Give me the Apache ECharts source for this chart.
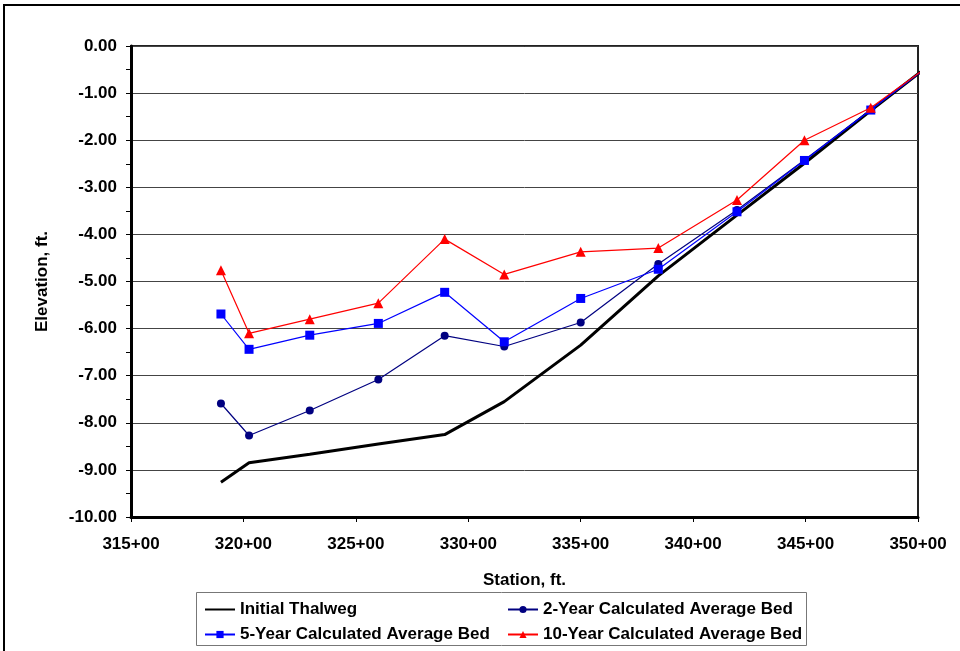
<!DOCTYPE html>
<html>
<head>
<meta charset="utf-8">
<script src="https://cdn.jsdelivr.net/npm/echarts@6/dist/echarts.min.js"></script>
<style>
html, body { margin: 0; padding: 0; background: #fff; }
#chart { width: 960px; height: 651px; }
</style>
</head>
<body>
<div id="chart"></div>
<script>
// stations (ft) and elevations
var stations = [31900, 32025, 32295, 32600, 32895, 33160, 33500, 33845, 34195, 34495, 34790, 35020];
var thalweg = [-9.26, -8.85, -8.67, -8.45, -8.25, -7.55, -6.35, -4.88, -3.59, -2.49, -1.37, -0.52];
var bed2yr  = [-7.59, -8.27, -7.74, -7.08, -6.15, -6.38, -5.87, -4.63, -3.48, -2.42, -1.35, -0.52];
var bed5yr  = [-5.69, -6.44, -6.14, -5.89, -5.23, -6.28, -5.36, -4.74, -3.52, -2.43, -1.36, -0.52];
var bed10yr = [-4.76, -6.10, -5.80, -5.46, -4.10, -4.85, -4.37, -4.29, -3.27, -2.00, -1.31, -0.52];
var seriesNames = [
    "Initial Thalweg",
    "2-Year Calculated Average Bed",
    "5-Year Calculated Average Bed",
    "10-Year Calculated Average Bed"
];

var font = "'Liberation Sans', Arial, sans-serif";

function pairs(ys, hideLast) {
    return stations.map(function (x, i) {
        if (hideLast && i === stations.length - 1) {
            return { value: [x, ys[i]], symbol: "none" };
        }
        return [x, ys[i]];
    });
}

function stationLabel(v) {
    var ft = Math.round(v) % 100;
    return Math.floor(v / 100) + "+" + (ft < 10 ? "0" + ft : ft);
}

var legendText = { fontFamily: font, fontWeight: "bold", fontSize: 17, color: "#000" };

var chart = echarts.init(document.getElementById("chart"));
chart.setOption({
    animation: false,
    grid: {
        left: 131,
        right: 42,
        top: 46,
        bottom: 134,
        show: true,
        borderColor: "#222",
        borderWidth: 2
    },
    graphic: [
        {
            type: "rect",
            shape: { x: 4, y: 5, width: 980, height: 700 },
            style: { fill: "none", stroke: "#000", lineWidth: 2 },
            silent: true
        },
        {
            type: "rect",
            shape: { x: 196.5, y: 592.5, width: 610, height: 53 },
            style: { fill: "#fff", stroke: "#777", lineWidth: 1 },
            z: -1,
            silent: true
        }
    ],
    legend: [
        {
            orient: "vertical",
            left: 199,
            top: 596,
            itemWidth: 30,
            itemHeight: 9,
            itemGap: 8,
            data: [seriesNames[0], seriesNames[2]],
            textStyle: legendText
        },
        {
            orient: "vertical",
            left: 502,
            top: 596,
            itemWidth: 30,
            itemHeight: 9,
            itemGap: 8,
            data: [seriesNames[1], seriesNames[3]],
            textStyle: legendText
        }
    ],
    xAxis: {
        type: "value",
        min: 31500,
        max: 35000,
        interval: 500,
        name: "Station, ft.",
        nameLocation: "middle",
        nameGap: 55,
        nameTextStyle: { fontFamily: font, fontWeight: "bold", fontSize: 17, color: "#000" },
        axisLine: { onZero: false, lineStyle: { color: "#000", width: 3 } },
        axisTick: { show: true, length: 5, lineStyle: { color: "#000", width: 1 } },
        axisLabel: {
            margin: 19,
            formatter: stationLabel,
            fontFamily: font,
            fontWeight: "bold",
            fontSize: 17,
            color: "#000"
        },
        splitLine: { show: false }
    },
    yAxis: {
        type: "value",
        min: -10,
        max: 0,
        interval: 1,
        name: "Elevation, ft.",
        nameLocation: "middle",
        nameGap: 80,
        nameRotate: 90,
        nameTextStyle: { fontFamily: font, fontWeight: "bold", fontSize: 17, color: "#000" },
        axisLine: { onZero: false, lineStyle: { color: "#000", width: 3 } },
        axisTick: { show: true, length: 5, lineStyle: { color: "#000", width: 1 } },
        minorTick: { show: true, splitNumber: 2, length: 5, lineStyle: { color: "#000", width: 1 } },
        axisLabel: {
            margin: 14,
            formatter: function (v) { return v.toFixed(2); },
            fontFamily: font,
            fontWeight: "bold",
            fontSize: 17,
            color: "#000"
        },
        splitLine: { show: true, lineStyle: { color: "#444", width: 1 } }
    },
    series: [
        {
            name: seriesNames[0],
            type: "line",
            data: pairs(thalweg, false),
            symbol: "line",
            showSymbol: false,
            clip: false,
            z: 2,
            lineStyle: { color: "#000", width: 3 },
            itemStyle: { color: "#000" }
        },
        {
            name: seriesNames[1],
            type: "line",
            data: pairs(bed2yr, true),
            symbol: "circle",
            symbolSize: 8,
            clip: false,
            z: 3,
            lineStyle: { color: "#000080", width: 1.2 },
            itemStyle: { color: "#000080" }
        },
        {
            name: seriesNames[2],
            type: "line",
            data: pairs(bed5yr, true),
            symbol: "rect",
            symbolSize: 9,
            clip: false,
            z: 4,
            lineStyle: { color: "#0000ff", width: 1.2 },
            itemStyle: { color: "#0000ff" }
        },
        {
            name: seriesNames[3],
            type: "line",
            data: pairs(bed10yr, true),
            symbol: "triangle",
            symbolSize: 10,
            clip: false,
            z: 5,
            lineStyle: { color: "#ff0000", width: 1.2 },
            itemStyle: { color: "#ff0000" }
        }
    ]
});
</script>
</body>
</html>
